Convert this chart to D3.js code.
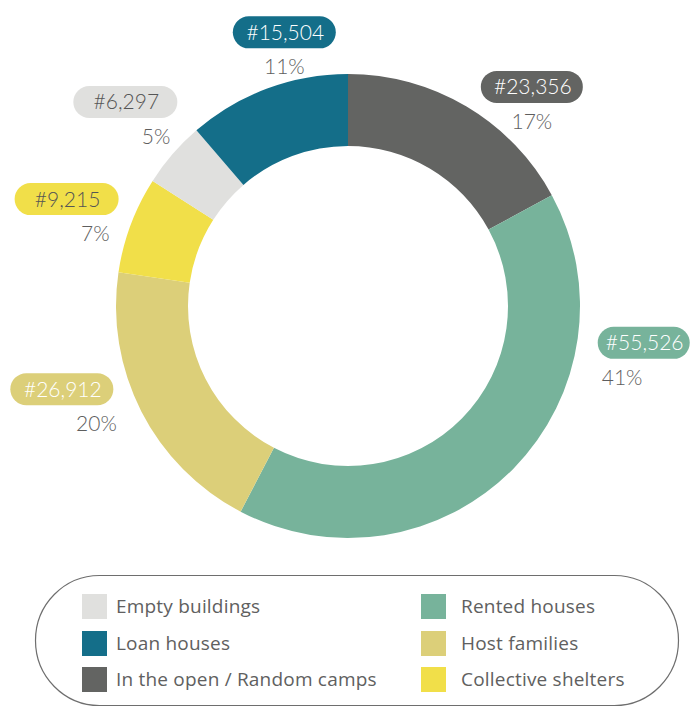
<!DOCTYPE html>
<html>
<head>
<meta charset="utf-8">
<script src="https://cdn.jsdelivr.net/npm/d3@7"></script>
<style>
  html, body { margin: 0; padding: 0; background: #ffffff; }
  svg { display: block; }
</style>
</head>
<body>
<svg id="chart" width="695" height="709"></svg>
<script>
// ---------------- data ----------------
const categories = ["In the open / Random camps", "Rented houses", "Host families", "Collective shelters", "Empty buildings", "Loan houses"];
const values = [23356, 55526, 26912, 9215, 6297, 15504];
const colors = ["#636462", "#77b39b", "#dccf79", "#f1df49", "#e0e0de", "#146e89"];
const legendOrder = ["Empty buildings", "Loan houses", "In the open / Random camps", "Rented houses", "Host families", "Collective shelters"];

// ---------------- layout ----------------
const W = 695, H = 709;
const cx = 348, cy = 306;
const outerR = 232, innerR = 160;

const svg = d3.select("#chart");
const color = d3.scaleOrdinal().domain(categories).range(colors);
const total = d3.sum(values);
const pct = d3.format(".0%");
const num = d3.format(",");

const data = categories.map((c, i) => ({ cat: c, value: values[i] }));
const pie = d3.pie().value(d => d.value).sort(null).startAngle(0).endAngle(2 * Math.PI);
const arc = d3.arc().innerRadius(innerR).outerRadius(outerR);

const g = svg.append("g").attr("transform", `translate(${cx},${cy})`);
g.selectAll("path.slice")
  .data(pie(data))
  .join("path")
  .attr("class", "slice")
  .attr("d", arc)
  .attr("fill", d => color(d.data.cat));

// label placement (polar, relative to donut centre) and text styling
const labelLayout = {
  "Loan houses":                { ang: 346.9, r: 281, w: 103, pctAnchor: "middle", pctDx: 0,   dark: false },
  "In the open / Random camps": { ang: 40.0,  r: 286, w: 102, pctAnchor: "middle", pctDx: 0,   dark: false },
  "Rented houses":              { ang: 97.1,  r: 298, w: 92,  pctAnchor: "start",  pctDx: -42, dark: false },
  "Host families":              { ang: 253.8, r: 298, w: 103, pctAnchor: "end",    pctDx: 55,  dark: false },
  "Empty buildings":            { ang: 312.5, r: 302, w: 104, pctAnchor: "end",    pctDx: 45,  dark: true },
  "Collective shelters":        { ang: 290.8, r: 301, w: 104, pctAnchor: "end",    pctDx: 43,  dark: true }
};

const labels = svg.append("g").attr("class", "labels");
pie(data).forEach(d => {
  const L = labelLayout[d.data.cat];
  const a = L.ang * Math.PI / 180;
  const px = cx + L.r * Math.sin(a);
  const py = cy - L.r * Math.cos(a);
  const lg = labels.append("g").attr("transform", `translate(${px},${py})`);
  lg.append("rect")
    .attr("x", -L.w / 2).attr("y", -16)
    .attr("width", L.w).attr("height", 32)
    .attr("rx", 16).attr("ry", 16)
    .attr("fill", color(d.data.cat));
  lg.append("text")
    .attr("x", 1).attr("y", 7.5)
    .attr("text-anchor", "middle")
    .attr("font-family", "Lato, 'Open Sans', sans-serif")
    .attr("font-weight", 300)
    .attr("font-size", 21)
    .attr("fill", L.dark ? "#555555" : "#ffffff")
    .text("#" + num(d.data.value));
  lg.append("text")
    .attr("x", L.pctDx).attr("y", 42)
    .attr("text-anchor", L.pctAnchor)
    .attr("font-family", "Lato, 'Open Sans', sans-serif")
    .attr("font-weight", 300)
    .attr("font-size", 21)
    .attr("fill", "#5e5e5e")
    .text(pct(d.data.value / total));
});

// ---------------- legend ----------------
const leg = svg.append("g").attr("class", "legend");
leg.append("rect")
  .attr("x", 35.5).attr("y", 575.5)
  .attr("width", 643).attr("height", 130)
  .attr("rx", 64).attr("ry", 65)
  .attr("fill", "none")
  .attr("stroke", "#6e6e6e")
  .attr("stroke-width", 1.2);

const colX = [82, 421];
const textDx = [34, 40];
const rowY = [594, 631, 667];
legendOrder.forEach((c, i) => {
  const col = Math.floor(i / 3), row = i % 3;
  const item = leg.append("g").attr("transform", `translate(${colX[col]},${rowY[row]})`);
  item.append("rect").attr("width", 25).attr("height", 25).attr("fill", color(c));
  item.append("text")
    .attr("x", textDx[col]).attr("y", 18.5)
    .attr("font-family", "'Open Sans', 'Noto Sans', sans-serif")
    .attr("font-size", 19)
    .attr("letter-spacing", 0.2)
    .attr("fill", "#606060")
    .text(c);
});
</script>
</body>
</html>
